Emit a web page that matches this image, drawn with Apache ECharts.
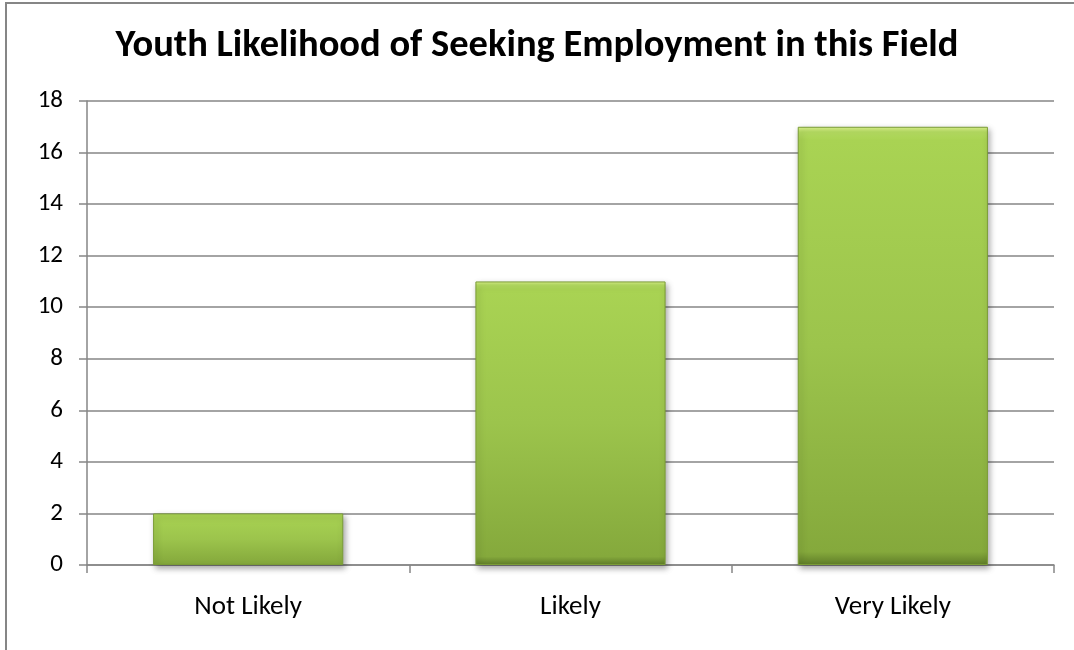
<!DOCTYPE html>
<html>
<head>
<meta charset="utf-8">
<script src="https://cdn.jsdelivr.net/npm/echarts@6/dist/echarts.min.js"></script>
<style>
  html, body { margin: 0; padding: 0; background: #ffffff; }
  #chart { width: 1074px; height: 650px; }
</style>
</head>
<body>
<div id="chart"></div>
<script>
// Survey responses: how likely youth are to seek work in this field
const categories = ['Not Likely', 'Likely', 'Very Likely'];
const counts = [2, 11, 17];
const yTicks = { min: 0, max: 18, step: 2 };

const fontFamily = 'Carlito, Lato, sans-serif';
const gray = '#868686';

const chart = echarts.init(document.getElementById('chart'), null, { renderer: 'canvas' });

chart.setOption({
  animation: false,
  backgroundColor: '#ffffff',
  title: {
    text: 'Youth Likelihood of Seeking Employment in this Field',
    left: 'center',
    top: 22,
    textStyle: { fontFamily: fontFamily, fontSize: 38.5, fontWeight: 'bold', color: '#000000' }
  },
  graphic: [{
    type: 'rect',
    shape: { x: 6, y: 3, width: 1200, height: 800 },
    style: { fill: 'none', stroke: gray, lineWidth: 2 },
    silent: true
  }],
  grid: { left: 87, right: 20, top: 101, bottom: 85, containLabel: false },
  xAxis: {
    type: 'category',
    data: categories,
    axisLine: { lineStyle: { color: gray, width: 1.5 } },
    axisTick: { show: true, length: 8, lineStyle: { color: gray, width: 1.5 } },
    axisLabel: { fontFamily: fontFamily, fontSize: 27, color: '#000000', margin: 29 }
  },
  yAxis: {
    type: 'value',
    min: yTicks.min,
    max: yTicks.max,
    interval: yTicks.step,
    axisLine: { show: true, lineStyle: { color: gray, width: 1.5 } },
    axisTick: { show: true, length: 8, lineStyle: { color: gray, width: 1.5 } },
    splitLine: { lineStyle: { color: gray, width: 1.5 } },
    axisLabel: { fontFamily: fontFamily, fontSize: 25, color: '#000000', margin: 24 }
  },
  series: [{
    type: 'bar',
    data: counts,
    barWidth: '59%',
    itemStyle: {
      color: new echarts.graphic.LinearGradient(0, 0, 0, 1, [
        { offset: 0, color: '#dff58f' },
        { offset: 0.012, color: '#b6dd62' },
        { offset: 0.03, color: '#a9d353' },
        { offset: 0.5, color: '#9cc44c' },
        { offset: 0.97, color: '#85a93c' },
        { offset: 1, color: '#5f7d28' }
      ]),
      borderColor: '#7a9c36',
      borderWidth: 1,
      shadowColor: 'rgba(0,0,0,0.35)',
      shadowBlur: 6,
      shadowOffsetX: 2,
      shadowOffsetY: 3
    }
  }]
});
</script>
</body>
</html>
